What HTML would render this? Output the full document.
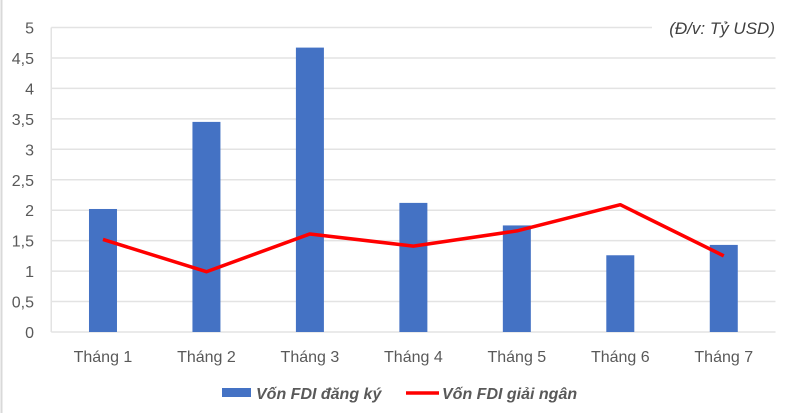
<!DOCTYPE html>
<html><head><meta charset="utf-8">
<style>
html,body{margin:0;padding:0;background:#fff;}
svg{display:block;font-family:"Liberation Sans",sans-serif;}
</style></head>
<body>
<svg id="chart" width="787" height="413" viewBox="0 0 787 413">
  <line x1="1.5" y1="0" x2="1.5" y2="413" stroke="#d9d9d9" stroke-width="2"/>
  <g id="grid"></g>
  <g id="yticks"></g>
  <g id="bars"></g>
  <g id="xlabels"></g>
  <polyline id="line" fill="none" stroke="#ff0000" stroke-width="3.5" stroke-linejoin="round"/>
  <rect x="652" y="12" width="128" height="28" fill="#fff"/>
  <text x="775" y="34" text-anchor="end" font-size="17" font-style="italic" fill="#404040">(Đ/v: Tỷ USD)</text>
  <g>
    <rect x="222" y="388" width="29" height="9" fill="#4472c4"/>
    <text x="256" y="399" font-size="16" font-weight="bold" font-style="italic" fill="#595959">Vốn FDI đăng ký</text>
    <line x1="406" y1="393" x2="439" y2="393" stroke="#ff0000" stroke-width="3.5"/>
    <text x="442" y="399" font-size="16" font-weight="bold" font-style="italic" fill="#595959">Vốn FDI giải ngân</text>
  </g>
</svg>
<script>
const categories = ["Tháng 1","Tháng 2","Tháng 3","Tháng 4","Tháng 5","Tháng 6","Tháng 7"];
const registered = [2.02, 3.45, 4.67, 2.12, 1.75, 1.26, 1.43];
const disbursed = [1.52, 0.99, 1.61, 1.41, 1.66, 2.09, 1.25];
const yTicks = [0, 0.5, 1, 1.5, 2, 2.5, 3, 3.5, 4, 4.5, 5];
const yTickLabels = ["0","0,5","1","1,5","2","2,5","3","3,5","4","4,5","5"];

const NS = "http://www.w3.org/2000/svg";
const plotL = 51.25, plotR = 775.5, plotT = 27.5, plotB = 332, yMax = 5;
const band = (plotR - plotL) / categories.length;
function y(v){ return plotB - (v / yMax) * (plotB - plotT); }
function xc(i){ return plotL + band * (i + 0.5); }
function mk(tag, attrs, parent){ const e = document.createElementNS(NS, tag); for (const k in attrs) e.setAttribute(k, attrs[k]); parent.appendChild(e); return e; }

const grid = document.getElementById("grid");
const yt = document.getElementById("yticks");
yTicks.forEach((t, i) => {
  const l = mk("line", {x1: plotL, x2: plotR, y1: y(t), y2: y(t), stroke: "#e3e3e3", "stroke-width": 1.5}, grid);
  
  
  const tx = mk("text", {x: 34, y: y(t) + 6, "text-anchor": "end", "font-size": 16, fill: "#595959"}, yt);
  tx.textContent = yTickLabels[i];
  
  
});
const ax = mk("line", {x1: plotL, x2: plotL, y1: plotT, y2: plotB, stroke: "#e3e3e3", "stroke-width": 1.5}, grid);



const bars = document.getElementById("bars");
const bw = 28;
registered.forEach((v, i) => {
  const r = mk("rect", {x: xc(i) - bw/2, y: y(v), width: bw, height: plotB - y(v), fill: "#4472c4"}, bars);
  
  
});

const xl = document.getElementById("xlabels");
categories.forEach((c, i) => {
  const t = mk("text", {x: xc(i), y: 362, "text-anchor": "middle", "font-size": 16, fill: "#595959"}, xl);
  t.textContent = c;
  
  
});

document.getElementById("line").setAttribute("points", disbursed.map((v, i) => xc(i) + "," + y(v)).join(" "));
</script>
</body></html>
